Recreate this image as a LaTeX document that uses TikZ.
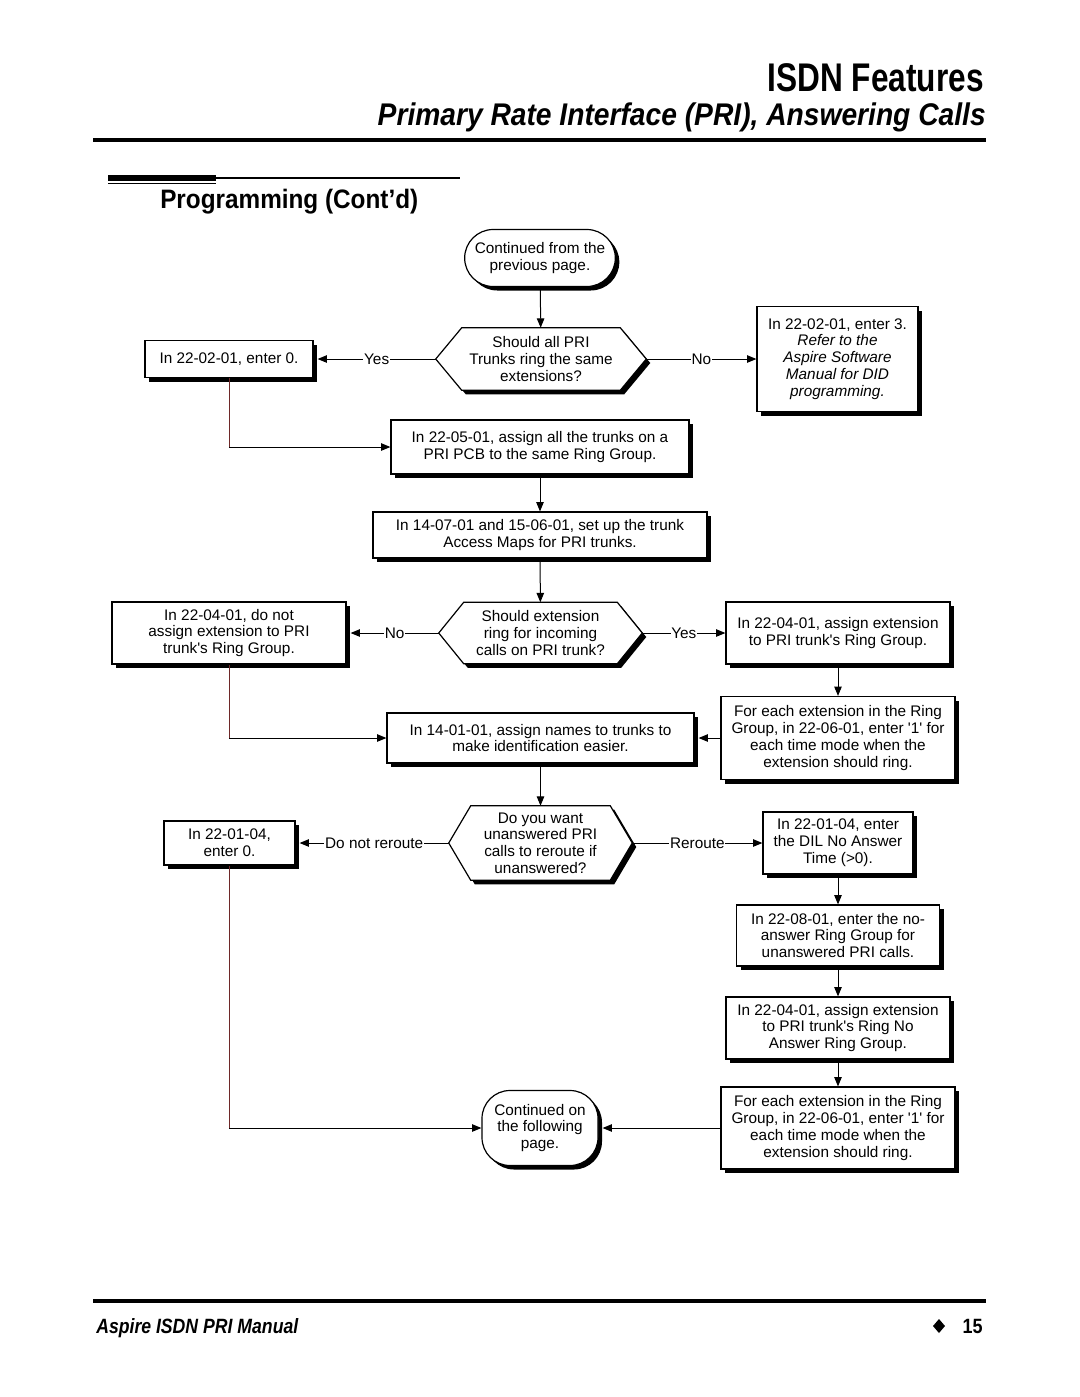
\documentclass[tikz,border=0pt]{standalone}
\usepackage{graphicx}
\usepackage{fontspec}
\setmainfont{Liberation Sans}[Ligatures=TeXOff]
\usetikzlibrary{shapes.misc,shadows,arrows.meta,calc}
\pgfdeclarelayer{background}
\pgfsetlayers{background,main}
\definecolor{linered}{RGB}{110,40,40}
\newcommand\hexshape[2]{%
  \begin{pgfonlayer}{background}
  \fill[black] ([shift={(4,4)}]#1.west) -- ([shift={(#2+4,4)}]#1.north west) -- ([shift={(-#2+4,4)}]#1.north east)
     -- ([shift={(4,4)}]#1.east) -- ([shift={(-#2+4,4)}]#1.south east) -- ([shift={(#2+4,4)}]#1.south west) -- cycle;
  \draw[fill=white, line width=0.9pt] (#1.west) -- ([shift={(#2,0)}]#1.north west) -- ([shift={(-#2,0)}]#1.north east)
     -- (#1.east) -- ([shift={(-#2,0)}]#1.south east) -- ([shift={(#2,0)}]#1.south west) -- cycle;
  \end{pgfonlayer}}
\tikzset{
  body/.style={font=\fontsize{11.5}{12.6}\selectfont},
  box/.style={body, draw, fill=white, line width=0.9pt, align=center, inner sep=2pt,
    drop shadow={shadow xshift=3pt, shadow yshift=-3pt, opacity=1, fill=black}},
  term/.style={box, rounded rectangle},
  termbox/.style={box, rectangle, rounded corners=21pt},
  wh/.style 2 args={minimum width=#1*0.75pt, minimum height=#2*0.75pt},
  hexnode/.style={body, align=center, inner sep=0pt},
  flow/.style={line width=0.75pt, -{Triangle[length=7pt,width=5.6pt]}},
  lbl/.style={body, fill=white, inner sep=0.6pt},
  redline/.style={line width=0.75pt, draw=linered},
}
\begin{document}
\begin{tikzpicture}[x=0.75pt,y=-0.75pt]
\useasboundingbox (0,0) rectangle (1080,1397);
% header
\node[inner sep=0pt, anchor=base east] (title) at (984,91)
  {\resizebox{162pt}{\height}{\fontsize{30}{30}\selectfont\bfseries ISDN Features}};
\node[inner sep=0pt, anchor=base east] (subtitle) at (986,125)
  {\resizebox{456pt}{\height}{\fontsize{23.5}{24}\selectfont\bfseries\itshape Primary Rate Interface (PRI), Answering Calls}};
\fill (93,138) rectangle (986,142);
\fill (108,175) rectangle (216,181);
\draw[line width=0.75pt] (108,183.5) -- (216,183.5);
\draw[line width=0.9pt] (216,178) -- (460,178);
\node[inner sep=0pt, anchor=base west] (section) at (160,208)
  {\resizebox{193.5pt}{\height}{\fontsize{20}{20}\selectfont\bfseries Programming (Cont’d)}};
% footer
\fill (93,1299) rectangle (986,1303);
\node[inner sep=0pt, anchor=base west] (foot) at (96,1333)
  {\resizebox{151.5pt}{\height}{\fontsize{15.5}{16}\selectfont\bfseries\itshape Aspire ISDN PRI Manual}};
\fill (939,1319) -- (945,1326) -- (939,1333) -- (933,1326) -- cycle;
\node[inner sep=0pt, anchor=base east] (pagenum) at (983,1333)
  {\resizebox{15pt}{\height}{\fontsize{15.5}{16}\selectfont\bfseries 15}};

% nodes
\node[term, wh={156}{57}] (start) at (540,258) {Continued from the\\previous page.};
\node[hexnode, wh={210}{62}] (d1) at (541,359) {Should all PRI\\Trunks ring the same\\extensions?};
\hexshape{d1}{26}
\node[box, wh={168}{37}] (b3) at (229,359) {In 22-02-01, enter 0.};
\node[box, wh={161}{105}] (b4) at (837.5,359) {In 22-02-01, enter 3.\\{\itshape Refer to the}\\{\itshape Aspire Software}\\{\itshape Manual for DID}\\{\itshape programming.}};
\node[box, wh={298}{54}] (b5) at (540,447) {In 22-05-01, assign all the trunks on a\\PRI PCB to the same Ring Group.};
\node[box, wh={334}{46}] (b6) at (540,535) {In 14-07-01 and 15-06-01, set up the trunk\\Access Maps for PRI trunks.};
\node[hexnode, wh={203}{61}] (d2) at (540.5,633) {Should extension\\ring for incoming\\calls on PRI trunk?};
\hexshape{d2}{25}
\node[box, wh={234}{62}] (b8) at (229,633) {In 22-04-01, do not\\assign extension to PRI\\trunk's Ring Group.};
\node[box, wh={224}{62}] (b9) at (838,633) {In 22-04-01, assign extension\\to PRI trunk's Ring Group.};
\node[box, wh={234}{83}] (b10) at (838,738) {For each extension in the Ring\\Group, in 22-06-01, enter '1' for\\each time mode when the\\extension should ring.};
\node[box, wh={307}{50}] (b11) at (540.5,738) {In 14-01-01, assign names to trunks to\\make identification easier.};
\node[hexnode, wh={183}{74}] (d3) at (540.5,843) {Do you want\\unanswered PRI\\calls to reroute if\\unanswered?};
\hexshape{d3}{22}
\node[box, wh={131}{44}] (b13) at (229.5,843) {In 22-01-04,\\enter 0.};
\node[box, wh={150}{62}] (b14) at (838,843) {In 22-01-04, enter\\the DIL No Answer\\Time (>0).};
\node[box, wh={203}{61}] (b15) at (838,935.5) {In 22-08-01, enter the no-\\answer Ring Group for\\unanswered PRI calls.};
\node[box, wh={224}{62}] (b16) at (838,1028) {In 22-04-01, assign extension\\to PRI trunk's Ring No\\Answer Ring Group.};
\node[box, wh={234}{82}] (b17) at (838,1128) {For each extension in the Ring\\Group, in 22-06-01, enter '1' for\\each time mode when the\\extension should ring.};
\node[termbox, wh={116}{75}] (nend) at (540,1128) {Continued on\\the following\\page.};

% connectors
\draw[flow] (start) -- (d1);
\draw[flow] (d1.west) -- node[lbl]{Yes} ([xshift=3pt]b3.east);
\draw[flow] (d1.east) -- node[lbl]{No} (b4.west);
\draw[flow] (b3.south) |- (b5.west);
\draw[redline] (b3.south) -- (b3.south |- b5.west);
\draw[flow] (b5) -- (b6);
\draw[flow] (b6) -- (d2);
\draw[flow] (d2.west) -- node[lbl]{No} ([xshift=3pt]b8.east);
\draw[flow] (d2.east) -- node[lbl]{Yes} (b9.west);
\draw[flow] (b9) -- (b10);
\draw[flow] (b10.west) -- ([xshift=3pt]b11.east);
\draw[flow] (b8.south) |- (b11.west);
\draw[redline] (b8.south) -- (b8.south |- b11.west);
\draw[flow] (b11) -- (d3);
\draw[flow] (d3.west) -- node[lbl]{Do not reroute} ([xshift=3pt]b13.east);
\draw[flow] (d3.east) -- node[lbl]{Reroute} (b14.west);
\draw[flow] (b14) -- (b15);
\draw[flow] (b15) -- (b16);
\draw[flow] (b16) -- (b17);
\draw[flow] (b17.west) -- ([xshift=3pt]nend.east);
\draw[flow] (b13.south) |- (nend.west);
\draw[redline] (b13.south) -- (b13.south |- nend.west);
\end{tikzpicture}
\end{document}
